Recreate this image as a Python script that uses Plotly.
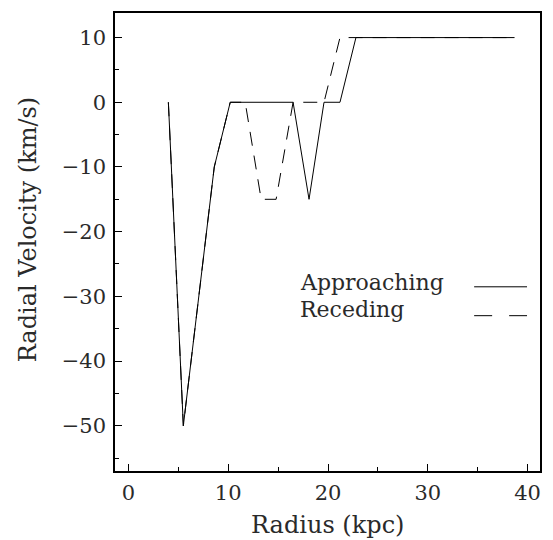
import plotly.graph_objects as go

# Data
app_r = [4.0, 5.5, 8.6, 10.2, 16.5, 18.1, 19.6, 21.2, 22.8, 38.7]
app_v = [0, -50, -10, 0, 0, -15, 0, 0, 10, 10]

rec_r = [4.0, 5.5, 8.6, 10.2, 11.7, 13.3, 14.8, 16.5, 19.6, 21.2, 38.7]
rec_v = [0, -50, -10, 0, 0, -15, -15, 0, 0, 10, 10]

x_ticks = [0, 10, 20, 30, 40]
y_ticks = [10, 0, -10, -20, -30, -40, -50]

FONT = "DejaVu Serif"
TXT = "#2a2a2a"

fig = go.Figure()
fig.add_trace(go.Scatter(x=app_r, y=app_v, mode="lines",
                         line=dict(color="black", width=1), name="Approaching"))
fig.add_trace(go.Scatter(x=rec_r, y=rec_v, mode="lines",
                         line=dict(color="black", width=1, dash="14px,10px"), name="Receding"))

fig.update_layout(
    width=553, height=540,
    margin=dict(l=115, r=12, t=11, b=69),
    paper_bgcolor="white", plot_bgcolor="white",
    showlegend=False,
    font=dict(family=FONT, color=TXT, size=21),
    xaxis=dict(range=[-1.35, 41.25], tickvals=x_ticks, ticks="inside", ticklen=7,
               tickwidth=1, tickcolor="black", showgrid=False, zeroline=False,
               showline=True, linecolor="black", linewidth=1.5, mirror=True,
               tickfont=dict(family=FONT, size=21, color=TXT), ticklabelstandoff=2,
               minor=dict(dtick=5, tick0=0, ticks="inside", ticklen=4, tickcolor="black")),
    yaxis=dict(range=[-57.0, 13.8], tickvals=y_ticks, ticks="inside", ticklen=7,
               tickwidth=1, tickcolor="black", showgrid=False, zeroline=False,
               showline=True, linecolor="black", linewidth=1.5, mirror=True,
               tickfont=dict(family=FONT, size=21, color=TXT), ticklabelstandoff=3,
               minor=dict(dtick=5, tick0=0, ticks="inside", ticklen=4, tickcolor="black")),
)

# Axis titles
fig.add_annotation(text="Radius (kpc)", xref="paper", yref="paper",
                   x=0.5, y=-(525 - 471) / 460, xanchor="center", yanchor="middle",
                   showarrow=False, font=dict(family=FONT, size=24, color=TXT))
fig.add_annotation(text="Radial Velocity (km/s)", xref="paper", yref="paper",
                   x=(28 - 115) / 426, y=1 - (229 - 11) / 460, xanchor="center", yanchor="middle",
                   textangle=-90, showarrow=False, font=dict(family=FONT, size=24, color=TXT))

# Legend (text left, line sample right)
fig.add_annotation(text="Approaching", xref="paper", yref="paper",
                   x=(298 - 115) / 426, y=1 - (282 - 11) / 460, xanchor="left", yanchor="middle",
                   showarrow=False, font=dict(family=FONT, size=22, color=TXT))
fig.add_annotation(text="Receding", xref="paper", yref="paper",
                   x=(298 - 115) / 426, y=1 - (309 - 11) / 460, xanchor="left", yanchor="middle",
                   showarrow=False, font=dict(family=FONT, size=22, color=TXT))
fig.add_shape(type="line", xref="paper", yref="paper",
              x0=(475 - 115) / 426, x1=(528 - 115) / 426,
              y0=1 - (286 - 11) / 460, y1=1 - (286 - 11) / 460,
              line=dict(color="black", width=1))
fig.add_shape(type="line", xref="paper", yref="paper",
              x0=(475 - 115) / 426, x1=(528 - 115) / 426,
              y0=1 - (315 - 11) / 460, y1=1 - (315 - 11) / 460,
              line=dict(color="black", width=1, dash="18px,17px"))

fig.write_html("out.html")
